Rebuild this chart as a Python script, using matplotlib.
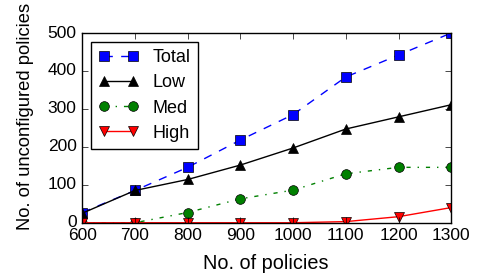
import matplotlib
matplotlib.use('Agg')
import matplotlib.pyplot as plt

plt.style.use('classic')
plt.rcParams['font.family'] = ['Liberation Sans', 'DejaVu Sans']

policies = [600, 700, 800, 900, 1000, 1100, 1200, 1300]
total = [27, 85, 146, 218, 285, 384, 442, 500]
low = [25, 85, 114, 152, 197, 247, 279, 311]
med = [0, 0, 27, 63, 86, 129, 146, 146]
high = [0, 0, 0, 0, 0, 3, 16, 40]

fig = plt.figure(figsize=(4.78, 2.75), dpi=100)
fig.patch.set_facecolor('white')
ax = fig.add_axes([0.172, 0.19, 0.772, 0.69])

ax.plot(policies, total, 'bs--', label='Total', markersize=7)
ax.plot(policies, low, 'k^-', label='Low', markersize=7)
ax.plot(policies, med, 'go-.', label='Med', markersize=7)
ax.plot(policies, high, 'rv-', label='High', markersize=7)

ax.set_xlim(600, 1300)
ax.set_ylim(0, 500)
ax.set_xticks(policies)
ax.set_yticks([0, 100, 200, 300, 400, 500])
ax.tick_params(labelsize=12.5, pad=4)
ax.set_xlabel('No. of policies', fontsize=14.3)
ax.set_ylabel('No. of unconfigured policies', fontsize=13.2)
ax.xaxis.set_label_coords(0.497, -0.165)
ax.yaxis.set_label_coords(-0.13, 0.56)
leg = ax.legend(loc='upper left', fontsize=13, numpoints=2, handlelength=2.2,
                labelspacing=0.45, borderaxespad=0.5)

fig.savefig('out.png', dpi=100, facecolor='white')
